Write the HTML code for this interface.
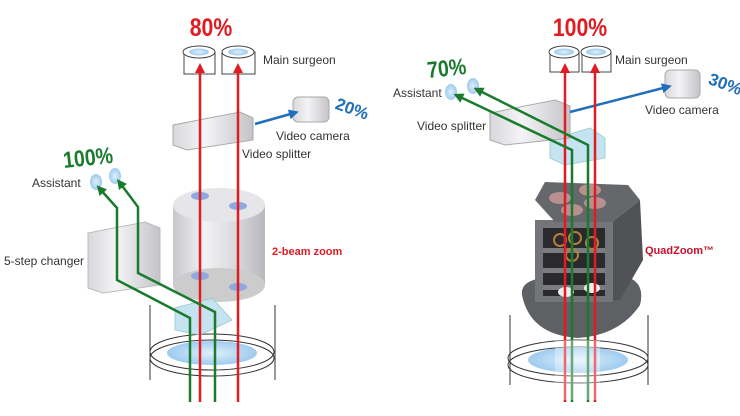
<!DOCTYPE html>
<html><head><meta charset="utf-8"><style>
html,body{margin:0;padding:0;background:#fff;width:740px;height:416px;overflow:hidden}
svg{display:block}
text{font-family:"Liberation Sans",sans-serif}
</style></head><body>
<svg width="740" height="416" viewBox="0 0 740 416" xmlns="http://www.w3.org/2000/svg">
<defs>
<linearGradient id="gl" x1="0" x2="1" y1="0" y2="0"><stop offset="0" stop-color="#d8d8dc"/><stop offset="0.4" stop-color="#f4f4f6"/><stop offset="1" stop-color="#c4c4c8"/></linearGradient>
<linearGradient id="cyl" x1="0" x2="1"><stop offset="0" stop-color="#c8c8cc"/><stop offset="0.35" stop-color="#f2f2f4"/><stop offset="0.7" stop-color="#d8d8dc"/><stop offset="1" stop-color="#b8b8bc"/></linearGradient>
<radialGradient id="lens"><stop offset="0" stop-color="#dff0fb"/><stop offset="1" stop-color="#9fcbef"/></radialGradient>
<marker id="ar" viewBox="0 0 10 10" refX="5" refY="5" markerWidth="4" markerHeight="4" orient="auto"><path d="M0,0L10,5L0,10z" fill="#e11b22"/></marker>
<marker id="ag" viewBox="0 0 10 10" refX="5" refY="5" markerWidth="4" markerHeight="4" orient="auto"><path d="M0,0L10,5L0,10z" fill="#1a7a2e"/></marker>
<marker id="ab" viewBox="0 0 10 10" refX="5" refY="5" markerWidth="4" markerHeight="4" orient="auto"><path d="M0,0L10,5L0,10z" fill="#1f6fba"/></marker>
</defs>

<!-- LEFT PANEL -->
<g fill="none" stroke="#333" stroke-width="1">
<line x1="150" y1="305" x2="150" y2="380"/><line x1="275" y1="305" x2="275" y2="380"/>
<ellipse cx="212" cy="352" rx="62" ry="18"/><ellipse cx="212" cy="358" rx="62" ry="18"/>
</g>
<ellipse cx="212" cy="353" rx="45" ry="12" fill="url(#lens)"/>
<polygon points="88,233 145,222 160,228 160,285 103,293 88,288" fill="url(#gl)" stroke="#bbb"/>
<rect x="173" y="205" width="92" height="80" fill="url(#cyl)"/>
<ellipse cx="219" cy="285" rx="46" ry="17" fill="#ccc"/>
<ellipse cx="219" cy="205" rx="46" ry="17" fill="#e6e6e8"/>
<ellipse cx="200" cy="196" rx="9" ry="4" fill="#8fa8e0"/><ellipse cx="238" cy="206" rx="9" ry="4" fill="#8fa8e0"/>
<ellipse cx="200" cy="276" rx="9" ry="4" fill="#8fa8e0"/><ellipse cx="238" cy="287" rx="9" ry="4" fill="#8fa8e0"/>
<polygon points="175,308 212,298 232,320 200,335 175,330" fill="#bfe0f0" stroke="#9cc" opacity="0.9"/>
<polygon points="173,125 240,112 253,118 253,140 187,150 173,145" fill="url(#gl)" stroke="#aaa"/>
<rect x="293" y="97" width="36" height="25" rx="5" fill="url(#gl)" stroke="#aaa"/>
<line x1="255" y1="124" x2="294" y2="113" stroke="#1f6fba" stroke-width="2.5" marker-end="url(#ab)"/>
<g stroke="#444" fill="#fff">
<rect x="184" y="52" width="31" height="22"/><ellipse cx="199" cy="52" rx="16" ry="6"/>
<rect x="222" y="52" width="33" height="22"/><ellipse cx="238" cy="52" rx="16" ry="6"/>
</g>
<ellipse cx="199" cy="52" rx="10" ry="3.5" fill="url(#lens)"/><ellipse cx="238" cy="52" rx="10" ry="3.5" fill="url(#lens)"/>
<ellipse cx="96" cy="182" rx="6" ry="8" fill="url(#lens)"/><ellipse cx="115" cy="176" rx="6" ry="8" fill="url(#lens)"/>
<line x1="200" y1="402" x2="200" y2="68" stroke="#e11b22" stroke-width="2.5" marker-end="url(#ar)"/>
<line x1="238" y1="402" x2="238" y2="68" stroke="#e11b22" stroke-width="2.5" marker-end="url(#ar)"/>
<polyline points="190,402 190,318 117,280 117,208 100,189" fill="none" stroke="#1a7a2e" stroke-width="2.5" marker-end="url(#ag)"/>
<polyline points="215,402 215,312 138,273 138,207 120,183" fill="none" stroke="#1a7a2e" stroke-width="2.5" marker-end="url(#ag)"/>
<text x="0" y="0" font-size="25" font-weight="bold" fill="#e11b22" text-anchor="middle" transform="translate(211,36) scale(0.85,1)">80%</text>
<text x="263" y="64" font-size="12" fill="#333">Main surgeon</text>
<text x="335" y="112" font-size="17" font-weight="bold" fill="#1f6fba" transform="rotate(20 345 108)">20%</text>
<text x="276" y="140" font-size="12" fill="#333">Video camera</text>
<text x="242" y="158" font-size="12" fill="#333">Video splitter</text>
<text x="0" y="0" font-size="23" font-weight="bold" fill="#1a7a2e" transform="translate(64,168) rotate(-6) scale(0.85,1)">100%</text>
<text x="32" y="187" font-size="12" fill="#333">Assistant</text>
<text x="4" y="265" font-size="12" fill="#333">5-step changer</text>
<text x="272" y="255" font-size="11" font-weight="bold" fill="#e11b22">2-beam zoom</text>

<!-- RIGHT PANEL -->
<g fill="none" stroke="#333" stroke-width="1">
<line x1="510" y1="315" x2="510" y2="385"/><line x1="648" y1="315" x2="648" y2="385"/>
<ellipse cx="578" cy="358" rx="70" ry="18"/><ellipse cx="578" cy="365" rx="70" ry="18"/>
</g>
<ellipse cx="578" cy="360" rx="50" ry="13" fill="url(#lens)"/>
<path d="M522,295 Q520,280 545,278 L630,278 Q645,285 640,305 Q620,335 578,338 Q530,335 522,295z" fill="#5e6064"/>
<polygon points="612,222 640,200 643,260 620,300 612,300" fill="#505256"/>
<rect x="535" y="220" width="78" height="82" fill="#737579"/>
<rect x="543" y="228" width="62" height="68" fill="#2a2a2c"/>
<g fill="#7a7c80"><rect x="543" y="248" width="62" height="5"/><rect x="543" y="268" width="62" height="5"/><rect x="543" y="285" width="62" height="5"/></g>
<g fill="none" stroke="#b08040" stroke-width="2"><circle cx="560" cy="240" r="6"/><circle cx="575" cy="238" r="6"/><circle cx="592" cy="243" r="6"/><circle cx="572" cy="255" r="6"/></g>
<ellipse cx="566" cy="292" rx="8" ry="5" fill="#eee"/><ellipse cx="592" cy="288" rx="8" ry="5" fill="#eee"/>
<polygon points="535,200 545,182 628,185 640,200 612,222 555,222" fill="#65676b"/>
<g fill="#b89090"><ellipse cx="560" cy="198" rx="11" ry="6"/><ellipse cx="590" cy="190" rx="11" ry="6"/><ellipse cx="595" cy="203" rx="11" ry="6"/><ellipse cx="572" cy="210" rx="11" ry="6"/></g>
<polygon points="550,140 590,128 605,138 605,158 565,165 550,158" fill="#bfe0f0" stroke="#9cc" opacity="0.9"/>
<polygon points="490,113 555,100 570,106 570,138 505,145 490,140" fill="url(#gl)" stroke="#aaa"/>
<rect x="665" y="70" width="35" height="28" rx="5" fill="url(#gl)" stroke="#aaa"/>
<line x1="570" y1="112" x2="667" y2="87" stroke="#1f6fba" stroke-width="2.5" marker-end="url(#ab)"/>
<g stroke="#444" fill="#fff">
<rect x="550" y="52" width="29" height="20"/><ellipse cx="564" cy="52" rx="15" ry="6"/>
<rect x="582" y="52" width="29" height="20"/><ellipse cx="596" cy="52" rx="15" ry="6"/>
</g>
<ellipse cx="564" cy="52" rx="10" ry="3.5" fill="url(#lens)"/><ellipse cx="596" cy="52" rx="10" ry="3.5" fill="url(#lens)"/>
<ellipse cx="451" cy="92" rx="6" ry="8" fill="url(#lens)"/><ellipse cx="473" cy="86" rx="6" ry="8" fill="url(#lens)"/>
<line x1="565" y1="402" x2="565" y2="68" stroke="#e11b22" stroke-width="2.5" marker-end="url(#ar)"/>
<line x1="595" y1="402" x2="595" y2="68" stroke="#e11b22" stroke-width="2.5" marker-end="url(#ar)"/>
<polyline points="572,402 572,150 458,96" fill="none" stroke="#1a7a2e" stroke-width="2.5" marker-end="url(#ag)"/>
<polyline points="588,402 588,145 478,90" fill="none" stroke="#1a7a2e" stroke-width="2.5" marker-end="url(#ag)"/>
<rect x="555" y="340" width="45" height="60" fill="#fff" opacity="0.35"/>
<text x="0" y="0" font-size="25" font-weight="bold" fill="#e11b22" text-anchor="middle" transform="translate(580,36) scale(0.85,1)">100%</text>
<text x="615" y="64" font-size="12" fill="#333">Main surgeon</text>
<text x="0" y="0" font-size="23" font-weight="bold" fill="#1a7a2e" transform="translate(428,78) rotate(-6) scale(0.85,1)">70%</text>
<text x="393" y="97" font-size="12" fill="#333">Assistant</text>
<text x="417" y="130" font-size="12" fill="#333">Video splitter</text>
<text x="708" y="88" font-size="17" font-weight="bold" fill="#1f6fba" transform="rotate(20 720 84)">30%</text>
<text x="645" y="114" font-size="12" fill="#333">Video camera</text>
<text x="645" y="254" font-size="11" font-weight="bold" fill="#c8102e">QuadZoom™</text>
</svg>
</body></html>
